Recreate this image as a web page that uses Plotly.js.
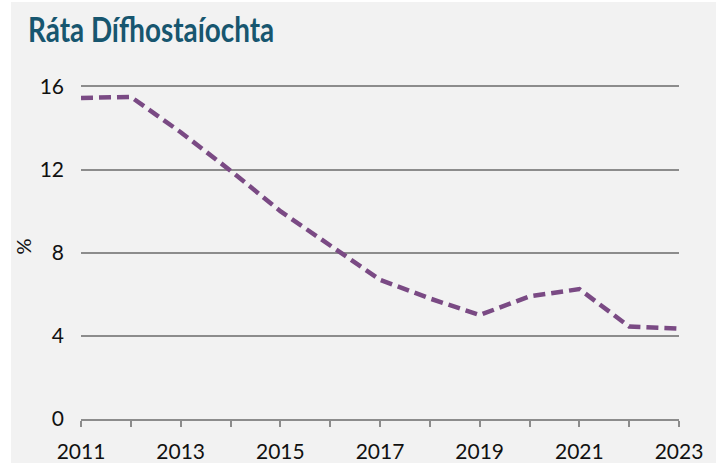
<!DOCTYPE html>
<html>
<head>
<meta charset="utf-8">
<script src="https://cdn.plot.ly/plotly-3.0.1.min.js"></script>
<style>
html,body{margin:0;padding:0;background:#ffffff;overflow:hidden;}
#chart{position:absolute;left:11px;top:2px;width:705px;height:461px;}
</style>
</head>
<body>
<div id="chart"></div>
<script>
const years = [2011,2012,2013,2014,2015,2016,2017,2018,2019,2020,2021,2022,2023];
const rate = [15.45,15.5,13.8,11.95,10.0,8.35,6.7,5.8,5.0,5.9,6.25,4.45,4.35];
const xTickLabels = ['2011','','2013','','2015','','2017','','2019','','2021','','2023'];
const yTicks = [0,4,8,12,16];
const titleText = 'Ráta Dífhostaíochta';
const yTitle = '%';

const grid = '#8c8c8c';
const trace = {
  x: years, y: rate, type: 'scatter', mode: 'lines',
  line: {color: '#7a4a84', width: 4.5, dash: '12px,6px'},
  hoverinfo: 'skip'
};
const layout = {
  width: 705, height: 461,
  paper_bgcolor: '#f2f2f2', plot_bgcolor: '#f2f2f2',
  margin: {l: 70, r: 37, t: 71.5, b: 44},
  showlegend: false,
  font: {family: 'Lato, "Open Sans", sans-serif', color: '#111111', size: 21},
  title: {
    text: '<b>' + titleText + '</b>',
    font: {family: 'Lato, sans-serif', size: 34, color: '#17566f'},
    xref: 'container', x: 17/705, xanchor: 'left',
    yref: 'container', y: 1 - 28/461, yanchor: 'middle'
  },
  xaxis: {
    range: [2011, 2023], tickvals: years, ticktext: xTickLabels,
    ticks: 'outside', ticklen: 6, tickwidth: 2, tickcolor: grid,
    showline: true, linecolor: grid, linewidth: 2,
    showgrid: false, zeroline: false,
    tickfont: {size: 21, color: '#111111'},
    ticklabelstandoff: 7,
    fixedrange: true
  },
  yaxis: {
    range: [0, 16.6], tickvals: yTicks,
    showgrid: true, gridcolor: grid, gridwidth: 2,
    zeroline: false, showline: false, ticks: '',
    tickfont: {size: 21, color: '#111111'},
    ticklabelstandoff: 16,
    title: {text: yTitle, font: {size: 20, color: '#111111'}, standoff: 12},
    fixedrange: true
  }
};
Plotly.newPlot('chart', [trace], layout, {displayModeBar: false, staticPlot: true}).then(function(gd){
  // the reference title is set in a narrower (condensed) cut of the face
  const t = gd.querySelector('.gtitle');
  if (t) {
    const x = parseFloat(t.getAttribute('x')) || 0;
    t.setAttribute('transform', 'translate(' + x + ',0) scale(0.82,1) translate(' + (-x) + ',0)');
  }
});
</script>
</body>
</html>
